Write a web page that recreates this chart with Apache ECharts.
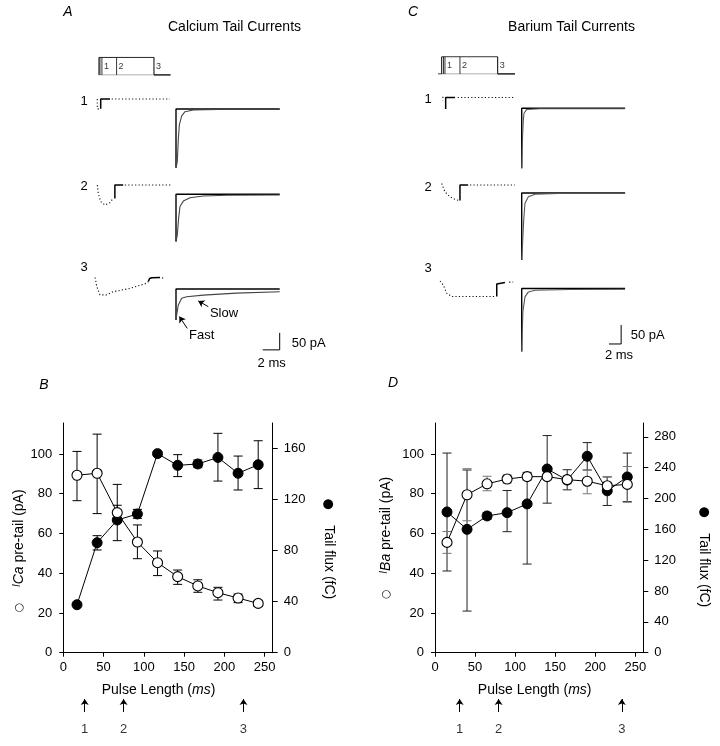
<!DOCTYPE html>
<html><head><meta charset="utf-8">
<script src="https://cdn.jsdelivr.net/npm/echarts@6/dist/echarts.min.js"></script>
<style>html,body{margin:0;padding:0;background:#fff}#c{width:720px;height:746px}</style>
</head><body><div id="c"></div><script>
const FONT = '"Liberation Sans", Arial, Helvetica, sans-serif';

// ---------- Panel B (calcium) ----------
const pulseLenB = [17, 42, 67, 92, 117, 142, 167, 192, 217, 242];
const icaPre     = [89.3, 90.3, 70.5, 55.7, 45.3, 38.3, 33.6, 30.2, 27.5, 24.8];
const icaPreLow  = [76.5, 70, 66.8, 47.3, 38.8, 34.4, 30.4, 26.5, 25.2, 23.3];
const icaPreHigh = [101.3, 110, 74.2, 64.3, 51.2, 41.6, 36.7, 32.9, 29.5, 26.3];
const caFlux     = [37.6, 86.2, 104, 108.7, 156, 146.8, 147.9, 153, 140.6, 147.3];
const caFluxLow  = [37.6, 80.5, 87.8, 105.3, 156, 138, 145, 134.5, 127.5, 128.6];
const caFluxHigh = [37.6, 91.7, 131.9, 112.3, 156, 155.2, 151, 171.9, 154.1, 166.1];

// ---------- Panel D (barium) ----------
const pulseLenD = [15, 40, 65, 90, 115, 140, 165, 190, 215, 240];
const ibaPre     = [55.5, 79.5, 85, 87.4, 88.6, 88.6, 87.1, 86.3, 84, 84.7];
const ibaPreLow  = [50, 66.4, 81.5, 85.4, 86.8, 87, 85, 80, 80.5, 75.7];
const ibaPreHigh = [61, 92.6, 88.8, 89.4, 90.4, 90, 89, 92, 88.5, 93.7];
const baFlux     = [182.6, 160, 177.4, 181.7, 193, 238.3, 224, 254.8, 210, 228];
const baFluxLow  = [106, 54, 173, 157, 115, 194, 211.3, 237, 191, 196];
const baFluxHigh = [259, 237, 182, 210.4, 234, 281.7, 237.4, 272.6, 228, 259];

// ---------- ticks ----------
const xTicks = [0, 50, 100, 150, 200, 250];
const leftTicks = [0, 20, 40, 60, 80, 100];
const rightTicksB = [0, 40, 80, 120, 160];
const rightTicksD = [0, 40, 80, 120, 160, 200, 240, 280];
const arrowsB = [26.6, 74.9, 223.7];
const arrowsD = [30.8, 79.4, 233.2];
const arrowLabels = ['1', '2', '3'];

// ---------- voltage protocols (ms) ----------
const protoEndsA = [12, 72, 225];
const protoEndsC = [14, 78, 239];

// ---------- pre-tail currents (t ms, I pA) ----------
const preA1Dot = [[-7, 0], [-7, -29], [4, -29]];
const preA1Sol = [[7, -29], [7, 0], [45, 0]];
const preA1Dot2 = [[52, 0], [290, 0]];
const preA2Dot = [[-7, 0], [-3, -24], [7, -49], [25, -59], [45, -52], [58, -39]];
const preA2Sol = [[65, -40], [65, 0], [99, 0]];
const preA2Dot2 = [[106, 0], [297, 0]];
const preA3Dot = [[-16, 0], [-9, -27], [4, -51], [31, -51], [58, -42], [127, -32], [195, -17], [202, -12]];
const preA3Sol = [[202, -12], [205, -12], [207, -3], [216, -1], [250, 0]];
const preA3Dot2 = [[258, -1], [272, -2]];

const preC1Dot = [[5, 2], [5, -8]];
const preC1Sol = [[17, -30], [17, 0], [57, 0]];
const preC1Dot2 = [[68, 0], [308, 0]];
const preC2Dot = [[0, 4], [14, -18], [35, -31], [57, -38], [74, -41]];
const preC2Sol = [[78, -41], [78, 0], [113, 0]];
const preC2Dot2 = [[121, 0], [313, 0]];
const preC3Dot = [[-7, 4], [7, -7], [21, -28], [43, -37], [228, -37]];
const preC3Sol = [[235, -37], [235, -4], [240, 0], [270, 0]];
const preC3Dot2 = [[288, 1], [305, 1]];

// ---------- tail currents (t ms, I pA) ----------
const tailA1 = [[0, -173], [0.15, -155], [0.27, -91], [0.39, -47], [0.67, -20], [1.06, -8], [2.04, -3], [5, -1.5], [12.2, -1]];
const tailA2 = [[0, -139], [0.15, -120], [0.31, -70], [0.47, -36], [0.86, -20], [1.65, -10], [3.2, -5], [6, -3], [12.2, -2]];
const tailA3 = [[0, -91], [0.08, -76], [0.27, -47], [0.67, -27], [1.25, -23], [3.2, -18], [7.1, -12], [12.2, -8]];
const tailC1 = [[0, -158], [0.08, -110], [0.16, -66], [0.27, -31], [0.38, -13], [0.82, -3], [3, -1], [17, -1]];
const tailC2 = [[0, -176], [0.15, -130], [0.33, -71], [0.54, -27], [1.09, -10], [2.2, -3], [6, -1.5], [17, -1]];
const tailC3 = [[0, -166], [0.1, -110], [0.2, -60], [0.54, -22], [1.1, -9], [2.2, -4.5], [8, -2.5], [17, -2]];
const tailDurA = 12.2, tailDurC = 17;
const scaleBarA = {ms: 2, pA: 50, t: 12.2, i: -179};
const scaleBarC = {ms: 2, pA: 50, t: 16.35, i: -146};
const slowArrow = [[3.8, -52], [2.62, -35]];
const fastArrow = [[1.33, -116], [0.39, -81]];

// ================= build =================
const grids = [], xAxis = [], yAxis = [], series = [], graphic = [];
function addGrid(box, xr, yr) {
  const gi = grids.length;
  grids.push({left: box[0], top: box[1], width: box[2], height: box[3]});
  xAxis.push({type: 'value', gridIndex: gi, min: xr[0], max: xr[1], show: false});
  yAxis.push({type: 'value', gridIndex: gi, min: yr[0], max: yr[1], show: false});
  return {x: xAxis.length - 1, y: yAxis.length - 1};
}
function line(ax, data, color, width, dash, z) {
  series.push({type: 'line', xAxisIndex: ax.x, yAxisIndex: ax.y, data, symbol: 'none', silent: true,
    z: z || 2, lineStyle: {color, width, type: dash || 'solid'}});
}
const DOT = [1.2, 2.2];
function text(x, y, t, size, opts) {
  graphic.push({type: 'text', x, y, silent: true,
    style: Object.assign({text: t, font: (opts && opts.font) || (size + 'px ' + FONT), fill: '#000',
      align: 'center', verticalAlign: 'middle'}, opts && opts.style)});
}

// protocols
function protocol(box, xr, ends, onsetLines, tailEnd, startPad) {
  const ax = addGrid(box, xr, [0, 1]);
  const main = [];
  if (startPad !== undefined) main.push([startPad, 0]);
  main.push([0, 0], [0, 1], [ends[2], 1], [ends[2], 0]);
  line(ax, main, '#000', 1);
  line(ax, [[ends[2], 0], [tailEnd, 0]], '#000', 1.6);
  line(ax, [[0, 0], [ends[2], 0]], '#777', 0.8);
  onsetLines.concat([ends[0], ends[1]]).forEach(v => line(ax, [[v, 0], [v, 1]], '#222', 0.9));
  series.push({type: 'scatter', xAxisIndex: ax.x, yAxisIndex: ax.y, silent: true, symbolSize: 0,
    data: ends.map(e => [e, 0.5]),
    label: {show: true, position: 'right', distance: 2, formatter: p => String(p.dataIndex + 1),
      fontSize: 9, fontFamily: FONT, color: '#000'}});
}
protocol([94.1, 57.3, 78.2, 17.7], [-20, 300], protoEndsA, [4], 293);
protocol([437.95, 56.7, 78.7, 17.3], [-16, 320], protoEndsC, [7.7], 313, -16);

// pre-tail rows
const preA = [[preA1Dot, preA1Sol, preA1Dot2], [preA2Dot, preA2Sol, preA2Dot2], [preA3Dot, preA3Sol, preA3Dot2]];
const preC = [[preC1Dot, preC1Sol, preC1Dot2], [preC2Dot, preC2Sol, preC2Dot2], [preC3Dot, preC3Sol, preC3Dot2]];
const zeroA = [99, 185, 277.5], zeroC = [97.5, 185, 282.5];
preA.forEach((r, k) => {
  const ax = addGrid([94.1, zeroA[k] - 3.4, 78.2, 27.2], [-20, 300], [-70, 10]);
  line(ax, r[0], '#111', 1.1, DOT); line(ax, r[1], '#000', 1.5); line(ax, r[2], '#111', 1.1, DOT);
});
preC.forEach((r, k) => {
  const ax = addGrid([437.95, zeroC[k] - 3.8, 78.7, 30.4], [-16, 320], [-70, 10]);
  line(ax, r[0], '#111', 1.1, DOT); line(ax, r[1], '#000', 1.5); line(ax, r[2], '#111', 1.1, DOT);
});

// tails
const baseA = [109, 194.3, 289], baseC = [108.3, 193, 288.5];
const tailsA = [tailA1, tailA2, tailA3], tailsC = [tailC1, tailC2, tailC3];
let tailAxA3, tailAxC3;
tailsA.forEach((d, k) => {
  const ax = addGrid([176, baseA[k] - 3.4, 103.7, 71.4], [0, tailDurA], [-200, 10]);
  line(ax, [[0, d[0][1]], [0, 0], [tailDurA, 0]], '#000', 1.4);
  line(ax, d, '#444', 1.1);
  if (k === 2) tailAxA3 = ax;
});
tailsC.forEach((d, k) => {
  const ax = addGrid([521.7, baseC[k] - 3.8, 103.4, 79.8], [0, tailDurC], [-200, 10]);
  line(ax, [[0, d[0][1]], [0, 0], [tailDurC, 0]], '#000', 1.4);
  line(ax, d, '#555', 1.1);
  if (k === 2) tailAxC3 = ax;
});
function scaleBar(ax, s) {
  line(ax, [[s.t - s.ms, s.i], [s.t, s.i], [s.t, s.i + s.pA]], '#000', 1);
}
scaleBar(tailAxA3, scaleBarA);
scaleBar(tailAxC3, scaleBarC);
function arrowLines(ax, list, size) {
  series.push({type: 'lines', coordinateSystem: 'cartesian2d', xAxisIndex: ax.x, yAxisIndex: ax.y, silent: true,
    symbol: ['none', 'arrow'], symbolSize: size, z: 5,
    lineStyle: {color: '#000', width: 1, opacity: 1, curveness: 0},
    data: list.map(c => ({coords: c}))});
}
arrowLines(tailAxA3, [slowArrow, fastArrow], 6);

// main panels B & D
function errSeries(xi, yi, xs, lo, hi, color, z) {
  series.push({type: 'custom', xAxisIndex: xi, yAxisIndex: yi, silent: true, z,
    data: xs.map((x, i) => [x, lo[i], hi[i]]),
    encode: {x: 0, y: [1, 2]},
    renderItem: (params, api) => {
      const x = api.value(0);
      const a = api.coord([x, api.value(1)]), b = api.coord([x, api.value(2)]);
      const hw = 4.5, st = {stroke: color, lineWidth: 1};
      return {type: 'group', children: [
        {type: 'line', shape: {x1: a[0], y1: a[1], x2: b[0], y2: b[1]}, style: st},
        {type: 'line', shape: {x1: a[0] - hw, y1: a[1], x2: a[0] + hw, y2: a[1]}, style: st},
        {type: 'line', shape: {x1: b[0] - hw, y1: b[1], x2: b[0] + hw, y2: b[1]}, style: st}]};
    }});
}
function mainPanel(o) {
  const gi = grids.length;
  grids.push({left: o.left, top: 423, width: o.width, height: 229.7});
  const xi = xAxis.length;
  const lbl = {color: '#000', fontSize: 13, fontFamily: FONT};
  xAxis.push({type: 'value', gridIndex: gi, min: 0, max: 260,
    name: 'Pulse Length ({i|ms})', nameLocation: 'middle', nameGap: 30,
    nameTextStyle: {color: '#000', fontSize: 14, fontFamily: FONT, padding: [0, o.xPad, 0, 0],
      rich: {i: {fontStyle: 'italic', fontSize: 14, fontFamily: FONT, color: '#000'}}},
    axisLine: {onZero: false, lineStyle: {color: '#000', width: 1}},
    axisTick: {show: true, length: 4, customValues: xTicks, lineStyle: {color: '#000'}},
    axisLabel: Object.assign({customValues: xTicks, margin: 8}, lbl), splitLine: {show: false}});
  const yl = yAxis.length;
  yAxis.push({type: 'value', gridIndex: gi, position: 'left', min: 0, max: 115.6,
    name: '{c|○}    {i|I}{s|' + o.ion + '} pre-tail (pA)', nameLocation: 'middle', nameRotate: 90, nameGap: o.lGap,
    nameTextStyle: {color: '#000', fontSize: 14, fontFamily: FONT, padding: o.lPad,
      rich: {c: {fontSize: 11, fontFamily: 'DejaVu Sans', color: '#000'},
        i: {fontStyle: 'italic', fontSize: 10, fontFamily: FONT, color: '#000', verticalAlign: 'top'},
        s: {fontStyle: 'italic', fontSize: 14, fontFamily: FONT, color: '#000'}}},
    axisLine: {show: true, onZero: false, lineStyle: {color: '#000', width: 1}},
    axisTick: {show: true, length: 4, customValues: leftTicks, lineStyle: {color: '#000'}},
    axisLabel: Object.assign({customValues: leftTicks, margin: 11}, lbl), splitLine: {show: false}});
  yAxis.push({type: 'value', gridIndex: gi, position: 'right', min: 0, max: o.rightMax,
    name: '{c|●}    Tail flux (fC)', nameLocation: 'middle', nameRotate: -90, nameGap: o.rGap,
    nameTextStyle: {color: '#000', fontSize: 14, fontFamily: FONT, padding: o.rPad,
      rich: {c: {fontSize: 13, fontFamily: 'DejaVu Sans', color: '#000'}}},
    axisLine: {show: true, onZero: false, lineStyle: {color: '#000', width: 1}},
    axisTick: {show: true, length: 5, customValues: o.rightTicks, lineStyle: {color: '#000'}},
    axisLabel: Object.assign({customValues: o.rightTicks, margin: 11}, lbl), splitLine: {show: false}});
  const yr = yl + 1;
  errSeries(xi, yr, o.xs, o.fluxLow, o.fluxHigh, o.fluxErrColor, 3);
  errSeries(xi, yl, o.xs, o.preLow, o.preHigh, o.openErrColor, 3);
  series.push({type: 'line', xAxisIndex: xi, yAxisIndex: yr, silent: true, z: 4,
    data: o.xs.map((x, i) => [x, o.flux[i]]), symbol: 'circle', symbolSize: 10,
    itemStyle: {color: '#000', borderColor: '#000', borderWidth: 1},
    lineStyle: {color: '#000', width: 1}});
  series.push({type: 'line', xAxisIndex: xi, yAxisIndex: yl, silent: true, z: 5,
    data: o.xs.map((x, i) => [x, o.pre[i]]), symbol: 'circle', symbolSize: 10,
    itemStyle: {color: '#fff', borderColor: '#000', borderWidth: 1.1},
    lineStyle: {color: '#000', width: 1}});
  // pulse-length arrows
  const ax = addGrid([o.left, 699, o.width, 13], [0, 260], [0, 1]);
  series.push({type: 'lines', coordinateSystem: 'cartesian2d', xAxisIndex: ax.x, yAxisIndex: ax.y, silent: true,
    symbol: ['none', 'arrow'], symbolSize: [5, 6],
    lineStyle: {color: '#000', width: 1, opacity: 1, curveness: 0},
    data: o.arrows.map(v => ({coords: [[v, 0], [v, 1]]}))});
  series.push({type: 'scatter', xAxisIndex: ax.x, yAxisIndex: ax.y, silent: true, symbolSize: 0,
    data: o.arrows.map((v, i) => ({value: [v, 0], name: arrowLabels[i]})),
    label: {show: true, position: 'bottom', distance: 11, formatter: p => p.name,
      fontSize: 13, fontFamily: FONT, color: '#000'}});
}
mainPanel({left: 63.3, width: 209.4, ion: 'Ca', rightMax: 180, rightTicks: rightTicksB,
  xs: pulseLenB, pre: icaPre, preLow: icaPreLow, preHigh: icaPreHigh,
  flux: caFlux, fluxLow: caFluxLow, fluxHigh: caFluxHigh, openErrColor: '#000', fluxErrColor: '#000',
  arrows: arrowsB, xPad: 19, lGap: 37, lPad: [0, 26, 0, 0], rGap: 49, rPad: [0, 0, 0, 22]});
mainPanel({left: 435, width: 208.3, ion: 'Ba', rightMax: 298, rightTicks: rightTicksD,
  xs: pulseLenD, pre: ibaPre, preLow: ibaPreLow, preHigh: ibaPreHigh,
  flux: baFlux, fluxLow: baFluxLow, fluxHigh: baFluxHigh, openErrColor: '#777', fluxErrColor: '#222',
  arrows: arrowsD, xPad: 9, lGap: 42, lPad: [0, 0, 0, 0], rGap: 54, rPad: [0, 0, 0, 38]});

// texts
const ital = s => 'italic ' + s + 'px ' + FONT;
text(68, 12, 'A', 14, {font: ital(14)});
text(413, 12, 'C', 14, {font: ital(14)});
text(44, 385, 'B', 14, {font: ital(14)});
text(393, 383, 'D', 14, {font: ital(14)});
text(234.5, 27, 'Calcium Tail Currents', 14);
text(571.5, 27, 'Barium Tail Currents', 14);
[101, 186.7, 267].forEach((y, i) => text(84, y, String(i + 1), 13));
[99, 187, 268].forEach((y, i) => text(428, y, String(i + 1), 13));
text(224, 313, 'Slow', 13);
text(201.7, 335.7, 'Fast', 13);
text(291.7, 343, '50 pA', 13, {style: {align: 'left'}});
text(271.7, 363.3, '2 ms', 13);
text(630.7, 335, '50 pA', 13, {style: {align: 'left'}});
text(619, 355, '2 ms', 13);

const chart = echarts.init(document.getElementById('c'), null, {renderer: 'canvas'});
chart.setOption({animation: false, backgroundColor: '#fff', grid: grids, xAxis, yAxis, series, graphic});
</script></body></html>
